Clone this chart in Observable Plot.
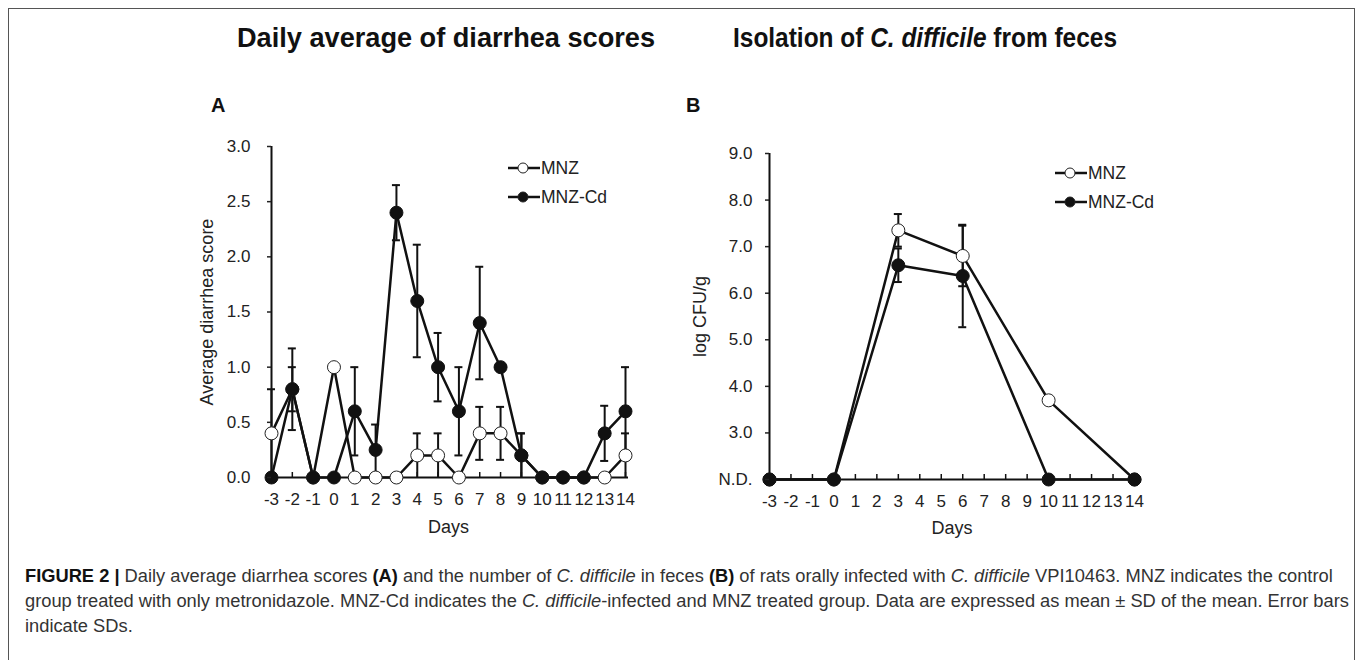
<!DOCTYPE html>
<html><head><meta charset="utf-8">
<script src="https://cdn.jsdelivr.net/npm/d3@7"></script>
<script src="https://cdn.jsdelivr.net/npm/@observablehq/plot@0.6"></script>
<style>
body{margin:0;background:#fff;font-family:"Liberation Sans",Arial,sans-serif;}
#root{position:relative;width:1358px;height:660px;overflow:hidden;background:#fff;}
.abs{position:absolute;white-space:nowrap;}
#frame{left:8px;top:8px;width:1345px;height:720px;border:1.5px solid #555;}
.title{font-weight:bold;font-size:27px;color:#111;top:23px;transform-origin:0 50%;}
.plab{font-weight:bold;font-size:20px;color:#111;top:94px;}
#caption{left:25px;top:563px;font-size:18.3px;line-height:25px;color:#333;}
#caption b{color:#111;}
</style></head><body><div id="root">
<div id="frame" class="abs"></div>
<div id="tA" class="abs title" data-cx="446" data-w="418">Daily average of diarrhea scores</div>
<div id="tB" class="abs title" data-cx="925" data-w="384">Isolation of <i>C. difficile</i> from feces</div>
<div class="abs plab" style="left:211px">A</div>
<div class="abs plab" style="left:686px">B</div>
<div id="panelA" class="abs" style="left:180px;top:120px"></div>
<div id="panelB" class="abs" style="left:680px;top:120px"></div>
<div id="legA" class="abs" style="left:505px;top:156px"></div>
<div id="legB" class="abs" style="left:1052px;top:161px"></div>
<div id="caption" class="abs"><b>FIGURE 2 |</b> Daily average diarrhea scores <b>(A)</b> and the number of <i>C. difficile</i> in feces <b>(B)</b> of rats orally infected with <i>C. difficile</i> VPI10463. MNZ indicates the control<br>group treated with only metronidazole. MNZ-Cd indicates the <i>C. difficile</i>-infected and MNZ treated group. Data are expressed as mean ± SD of the mean. Error bars<br>indicate SDs.</div>
</div>
<script>
// ---- Panel A: daily average diarrhea score ----
const daysA = [-3,-2,-1,0,1,2,3,4,5,6,7,8,9,10,11,12,13,14];
const mnzA    = [0.4,0.8,0,1.0,0,0,0,0.2,0.2,0,0.4,0.4,0.2,0,0,0,0,0.2];
const mnzSdA  = [0.4,0.2,0,0,0,0,0,0.2,0.2,0,0.24,0.24,0.2,0,0,0,0,0.2];
const cdA     = [0,0.8,0,0,0.6,0.25,2.4,1.6,1.0,0.6,1.4,1.0,0.2,0,0,0,0.4,0.6];
const cdSdA   = [0,0.37,0,0,0.4,0.23,0.25,0.51,0.31,0.4,0.51,0,0.2,0,0,0,0.25,0.4];
const yTicksA = [0,0.5,1.0,1.5,2.0,2.5,3.0];
const yLabelsA = ["0.0","0.5","1.0","1.5","2.0","2.5","3.0"];

// ---- Panel B: isolation of C. difficile (log CFU/g), N.D. shown at baseline ----
const daysB = [-3,0,3,6,10,14];
const mnzB   = [2,2,7.35,6.8,3.7,2];
const mnzSdB = [0,0,0.35,0.65,0,0];
const cdB    = [2,2,6.6,6.37,2,2];
const cdSdB  = [0,0,0.36,1.1,0,0];
const yTicksB = [2,3,4,5,6,7,8,9];
const yLabelsB = ["N.D.","3.0","4.0","5.0","6.0","7.0","8.0","9.0"];

const xTicks = [-3,-2,-1,0,1,2,3,4,5,6,7,8,9,10,11,12,13,14];
const seriesNames = ["MNZ","MNZ-Cd"];
const FONT = '"Liberation Sans",Arial,sans-serif';

function panel(o) {
  const rows = [];
  o.days.forEach((d,i)=>rows.push({day:d, v:o.s1[i], sd:o.sd1[i], g:seriesNames[0]}));
  o.days.forEach((d,i)=>rows.push({day:d, v:o.s2[i], sd:o.sd2[i], g:seriesNames[1]}));
  const errs = rows.filter(r=>r.sd>0);
  const y0 = o.yDomain[0];
  const lo = r=>Math.max(y0, r.v - r.sd), hi = r=>r.v + r.sd;
  return Plot.plot({
    width:o.width, height:o.height,
    marginLeft:o.ml, marginRight:o.mr, marginTop:o.mt, marginBottom:o.mb,
    x:{domain:[-3,14]},
    y:{domain:o.yDomain},
    style:{fontFamily:FONT, fontSize:"17px", color:"#222", background:"transparent", overflow:"visible"},
    marks:[
      Plot.ruleX(errs, {x:"day", y1:lo, y2:hi, stroke:"#111", strokeWidth:2}),
      Plot.ruleY(errs, {y:hi, x1:"day", x2:"day", insetLeft:-4, insetRight:-4, stroke:"#111", strokeWidth:2}),
      Plot.ruleY(errs.filter(r=>r.v-r.sd>y0), {y:lo, x1:"day", x2:"day", insetLeft:-4, insetRight:-4, stroke:"#111", strokeWidth:2}),
      Plot.ruleX([-3], {stroke:"#111", strokeWidth:2}),
      Plot.ruleY([y0], {stroke:"#111", strokeWidth:2, insetRight:-3}),
      Plot.ruleX(xTicks, {x:d=>d, y1:y0, y2:y0, insetTop:-5, stroke:"#111", strokeWidth:1.5}),
      Plot.line(rows, {x:"day", y:"v", z:"g", stroke:"#111", strokeWidth:2.5}),
      Plot.dot(rows.filter(r=>r.g===seriesNames[0]), {x:"day", y:"v", r:6.5, fill:"white", stroke:"#222", strokeWidth:1}),
      Plot.dot(rows.filter(r=>r.g===seriesNames[1]), {x:"day", y:"v", r:6.5, fill:"#111", stroke:"#111", strokeWidth:1}),
      Plot.axisX({ticks:xTicks, tickSize:0, tickPadding:15, tickFormat:d=>String(d), label:null, fontSize:17}),
      Plot.axisY({ticks:o.yTicks, tickSize:4, tickPadding:o.tp, tickFormat:d=>o.yLabels[o.yTicks.indexOf(d)], label:null, strokeWidth:1.5, fontSize:17}),
      Plot.text([o.ylabel], {frameAnchor:"left", textAnchor:"middle", dx:o.ldx, rotate:-90, fontSize:18}),
      Plot.text(["Days"], {frameAnchor:"bottom", textAnchor:"middle", dy:o.ddy, fontSize:18})
    ]
  });
}

document.getElementById("panelA").append(panel({
  days:daysA, s1:mnzA, sd1:mnzSdA, s2:cdA, sd2:cdSdA,
  yDomain:[0,3], yTicks:yTicksA, yLabels:yLabelsA,
  width:470, height:430, ml:91, mr:25, mt:26, mb:73, tp:17,
  ylabel:"Average diarrhea score", ldx:-64, ddy:55
}));
document.getElementById("panelB").append(panel({
  days:daysB, s1:mnzB, sd1:mnzSdB, s2:cdB, sd2:cdSdB,
  yDomain:[2,9], yTicks:yTicksB, yLabels:yLabelsB,
  width:480, height:430, ml:89, mr:26, mt:33, mb:71, tp:13,
  ylabel:"log CFU/g", ldx:-69, ddy:54
}));

function legend(el) {
  const ns = "http://www.w3.org/2000/svg";
  const svg = document.createElementNS(ns,"svg");
  svg.setAttribute("width",130); svg.setAttribute("height",56);
  seriesNames.forEach((name,i)=>{
    const y = 12 + i*29;
    const l = document.createElementNS(ns,"line");
    l.setAttribute("x1",3); l.setAttribute("x2",35); l.setAttribute("y1",y); l.setAttribute("y2",y);
    l.setAttribute("stroke","#111"); l.setAttribute("stroke-width",2.5);
    const c = document.createElementNS(ns,"circle");
    c.setAttribute("cx",18); c.setAttribute("cy",y); c.setAttribute("r",5);
    c.setAttribute("fill", i===0 ? "white" : "#111"); c.setAttribute("stroke", "#222");
    const t = document.createElementNS(ns,"text");
    t.setAttribute("x",36); t.setAttribute("y",y); t.setAttribute("dy","0.35em");
    t.setAttribute("font-size",17.5); t.setAttribute("fill","#222");
    t.setAttribute("font-family",FONT);
    t.textContent = name;
    svg.append(l,c,t);
  });
  el.append(svg);
}
legend(document.getElementById("legA"));
legend(document.getElementById("legB"));

// fit titles to the reference's width and centre
for (const id of ["tA","tB"]) {
  const el = document.getElementById(id);
  const w = el.getBoundingClientRect().width;
  const target = +el.dataset.w, cx = +el.dataset.cx;
  const s = target / w;
  el.style.left = (cx - target/2) + "px";
  el.style.transform = `scaleX(${s})`;
}
</script>
</body></html>
